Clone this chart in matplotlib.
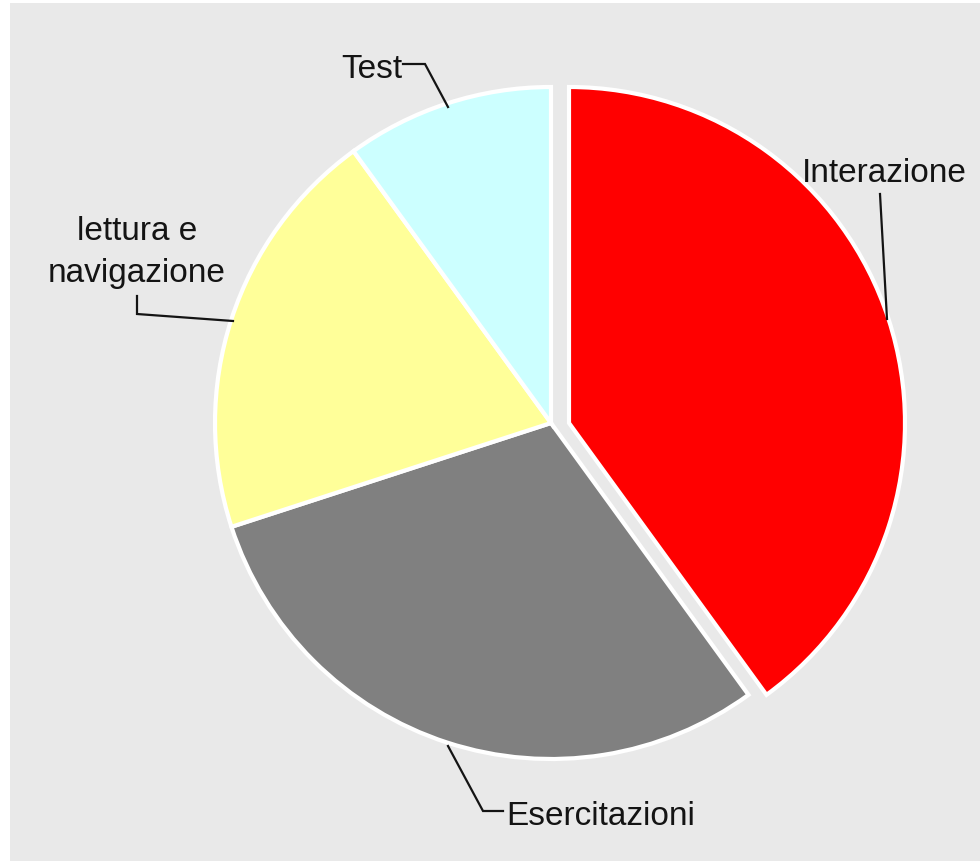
"""
Ripartizione del tempo per attività - grafico a torta
"""

import matplotlib.pyplot as plt
from matplotlib.patches import Rectangle

# dati
labels = ['Interazione', 'Esercitazioni', 'lettura e\nnavigazione', 'Test']
values = [40, 30, 20, 10]
colors = ['#ff0000', '#808080', '#ffff99', '#ccffff']

W, H = 980, 862
SFONDO = '#e9e9e9'


def px(x, y):
    """coordinate in pixel (origine in alto a sinistra) -> coordinate dell'asse"""
    return x, H - y


def main():
    fig = plt.figure(figsize=(W / 100, H / 100), dpi=100, facecolor=SFONDO)
    # bordo bianco a sinistra e in alto
    fig.add_artist(Rectangle((0, 0), 10 / W, 1, transform=fig.transFigure,
                             facecolor='white', edgecolor='none', zorder=-1))
    fig.add_artist(Rectangle((0, 1 - 4 / H), 1, 4 / H, transform=fig.transFigure,
                             facecolor='white', edgecolor='none', zorder=-1))

    ax = fig.add_axes([0, 0, 1, 1])
    ax.patch.set_alpha(0)

    cx, cy = px(551, 424)
    wedges, _ = ax.pie(values, colors=colors, startangle=90, counterclock=False,
                       center=(cx, cy), radius=336,
                       wedgeprops=dict(edgecolor='white', linewidth=3))
    # fetta staccata
    wedges[0].set_center((cx + 18, cy))

    ax.set_xlim(0, W)
    ax.set_ylim(0, H)
    ax.set_aspect('equal')
    ax.axis('off')

    font = dict(family='Liberation Sans', fontsize=24, color='#141414')
    line = dict(color='#141414', linewidth=1.6, solid_joinstyle='miter')

    # Test
    ax.text(*px(402, 78), labels[3], ha='right', va='baseline', **font)
    xs, ys = zip(px(403, 65), px(425, 65), px(448, 108))
    ax.plot(xs, ys, **line)

    # Interazione
    ax.text(*px(802, 182), labels[0], ha='left', va='baseline', **font)
    xs, ys = zip(px(880, 195), px(887, 320))
    ax.plot(xs, ys, **line)

    # lettura e navigazione
    riga1, riga2 = labels[2].split('\n')
    ax.text(*px(137, 240), riga1, ha='center', va='baseline', **font)
    ax.text(*px(137, 282), riga2, ha='center', va='baseline', **font)
    xs, ys = zip(px(137, 297), px(137, 315), px(233, 322))
    ax.plot(xs, ys, **line)

    # Esercitazioni
    ax.text(*px(506, 825), labels[1], ha='left', va='baseline', **font)
    xs, ys = zip(px(448, 747), px(483, 812), px(503, 812))
    ax.plot(xs, ys, **line)

    fig.savefig('out.png', dpi=100, facecolor=fig.get_facecolor())


if __name__ == '__main__':
    main()
